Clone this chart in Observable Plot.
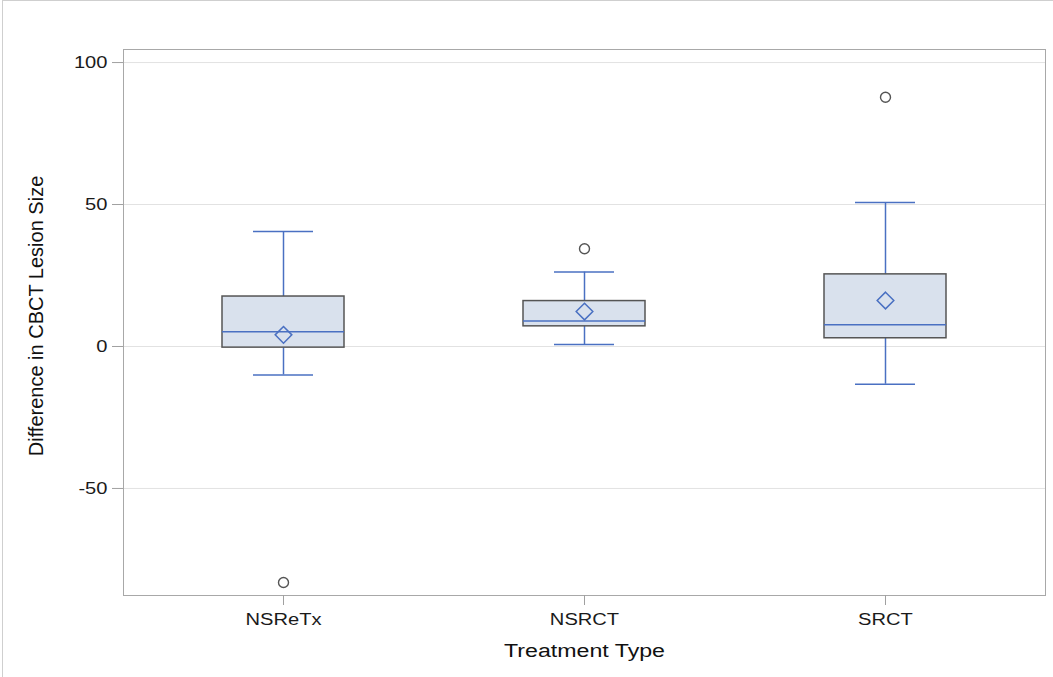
<!DOCTYPE html>
<html><head><meta charset="utf-8">
<script src="https://cdn.jsdelivr.net/npm/d3@7"></script>
<script src="https://cdn.jsdelivr.net/npm/@observablehq/plot@0.6"></script>
<style>
html,body{margin:0;padding:0;background:#fff;overflow:hidden;}
#wrap{position:relative;width:1053px;height:677px;overflow:hidden;}
#border{position:absolute;left:2px;top:0;width:1100px;height:700px;border-left:1px solid #cfcfcf;border-top:1px solid #cfcfcf;pointer-events:none;}
#chart{position:absolute;left:0;top:0;}
</style></head><body>
<div id="wrap"><div id="chart"></div><div id="border"></div></div>
<script>
const categories = ["NSReTx", "NSRCT", "SRCT"];
const whiskerLow  = [-10.0, 0.7, -13.3];
const q1          = [-0.4, 7.1, 2.9];
const median      = [5.2, 9.0, 7.7];
const q3          = [17.6, 16.0, 25.4];
const whiskerHigh = [40.5, 26.2, 50.7];
const mean        = [4.1, 12.3, 16.2];
const outlierCats   = ["NSReTx", "NSRCT", "SRCT"];
const outlierValues = [-83.1, 34.4, 87.8];
const yTicks = [-50, 0, 50, 100];
const xLabel = "Treatment Type";
const yLabel = "Difference in CBCT Lesion Size";

const stats = categories.map((c, i) => ({
  cat: c, lo: whiskerLow[i], q1: q1[i], median: median[i], q3: q3[i], hi: whiskerHigh[i], mean: mean[i]
}));
const outliers = outlierCats.map((c, i) => ({cat: c, value: outlierValues[i]}));

const blue = "#4a70c2";
const chart = Plot.plot({
  width: 1053, height: 677,
  marginLeft: 123, marginRight: 8, marginTop: 49, marginBottom: 82,
  style: {fontFamily: "'Liberation Sans', Arial, sans-serif", fontSize: "16.5px", color: "#1a1a1a", background: "white"},
  x: {type: "band", domain: categories, paddingInner: 0.596, paddingOuter: 0.3245, align: 0.5, label: null},
  y: {domain: [-87.7, 104.6], label: null},
  marks: [
    Plot.gridY(yTicks, {stroke: "#e2e2e2", strokeOpacity: 1}),
    Plot.ruleX(stats, {x: "cat", y1: "lo", y2: "q1", stroke: blue, strokeWidth: 1.5}),
    Plot.ruleX(stats, {x: "cat", y1: "q3", y2: "hi", stroke: blue, strokeWidth: 1.5}),
    Plot.tickY(stats, {x: "cat", y: "lo", insetLeft: 31, insetRight: 31, stroke: blue, strokeWidth: 1.5}),
    Plot.tickY(stats, {x: "cat", y: "hi", insetLeft: 31, insetRight: 31, stroke: blue, strokeWidth: 1.5}),
    Plot.barY(stats, {x: "cat", y1: "q1", y2: "q3", fill: "#d9e1ed", stroke: "#555", strokeWidth: 1.5}),
    Plot.tickY(stats, {x: "cat", y: "median", stroke: blue, strokeWidth: 1.5}),
    Plot.dot(stats, {x: "cat", y: "mean", symbol: "diamond2", r: 7.5, stroke: blue, strokeWidth: 1.5}),
    Plot.dot(outliers, {x: "cat", y: "value", r: 5, stroke: "#555", strokeWidth: 1.4}),
    Plot.frame({stroke: "#a8a8a8"}),
    Plot.axisY(yTicks, {tickSize: 11, tickPadding: 5, stroke: "#a0a0a0", label: null, tickFormat: d => String(d)}),
    Plot.axisX({tickSize: 10, tickPadding: 8, stroke: "#a0a0a0", label: null}),
    Plot.text([xLabel], {frameAnchor: "bottom", dy: 61, fontSize: 19, fill: "#111"}),
    Plot.text([yLabel], {frameAnchor: "left", textAnchor: "middle", rotate: -90, dx: -87, dy: -6.5, fontSize: 20, fill: "#111", className: "ylab"})
  ]
});
document.getElementById("chart").appendChild(chart);

// horizontal widening of horizontal texts to match the reference's wide lettering
const f = 1.22;
chart.querySelectorAll("text").forEach(t => {
  if (t.closest(".ylab")) return;
  const xa = t.getAttribute("x");
  const x = xa && !/em/.test(xa) ? parseFloat(xa) || 0 : 0;
  const tr = t.getAttribute("transform") || "";
  t.setAttribute("transform", `${tr} translate(${x},0) scale(${f},1) translate(${-x},0)`);
});
</script>
</body></html>
